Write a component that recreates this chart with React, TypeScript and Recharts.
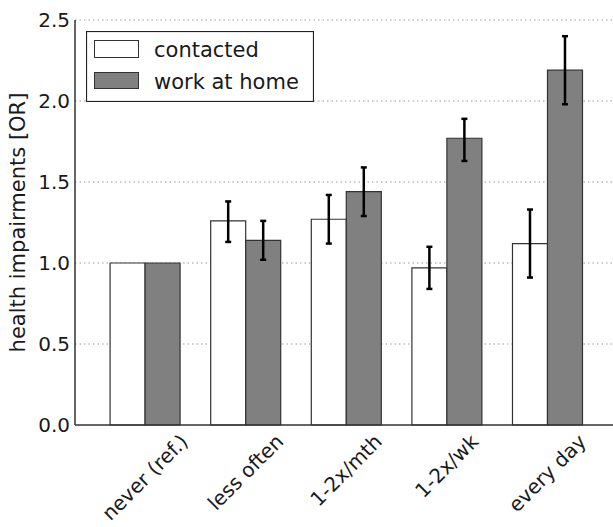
import React from "react";
import {
  BarChart,
  Bar,
  XAxis,
  YAxis,
  CartesianGrid,
  ErrorBar,
  Legend,
  Label,
} from "recharts";

const categories = ["never (ref.)", "less often", "1-2x/mth", "1-2x/wk", "every day"];
const contacted = [1.0, 1.26, 1.27, 0.97, 1.12];
const contactedLow = [null, 1.13, 1.12, 0.84, 0.91];
const contactedHigh = [null, 1.38, 1.42, 1.1, 1.33];
const workAtHome = [1.0, 1.14, 1.44, 1.77, 2.19];
const workLow = [null, 1.02, 1.29, 1.63, 1.98];
const workHigh = [null, 1.26, 1.59, 1.89, 2.4];
const yTicks = [0, 0.5, 1.0, 1.5, 2.0, 2.5];

const FONT = "'DejaVu Sans', sans-serif";
const FS = 21; // axis label + legend
const TICK_FS = 20;

const errOf = (v: number, lo: number | null, hi: number | null) =>
  lo == null || hi == null ? null : [v - lo, hi - v];

const data = categories.map((name, i) => ({
  name,
  contacted: contacted[i],
  contactedErr: errOf(contacted[i], contactedLow[i], contactedHigh[i]),
  work: workAtHome[i],
  workErr: errOf(workAtHome[i], workLow[i], workHigh[i]),
}));

let ctx: CanvasRenderingContext2D | null = null;
function textWidth(s: string) {
  if (!ctx) ctx = document.createElement("canvas").getContext("2d");
  if (!ctx) return s.length * TICK_FS * 0.55;
  ctx.font = `${TICK_FS}px 'DejaVu Sans'`;
  return ctx.measureText(s).width;
}

// matplotlib-style rotated label: rotation 45, centred on the tick, top just below the axis
function XTick(props: any) {
  const { x, y, payload } = props;
  const w = textWidth(payload.value);
  const h = TICK_FS * 0.9;
  const bh = (w + h) * Math.SQRT1_2;
  const cx = x;
  const cy = y + 7 + bh / 2;
  return (
    <text
      x={cx}
      y={cy}
      dy={TICK_FS * 0.32}
      textAnchor="middle"
      fontFamily={FONT}
      fontSize={TICK_FS}
      fill="#1a1a1a"
      transform={`rotate(-45, ${cx}, ${cy})`}
    >
      {payload.value}
    </text>
  );
}

function LegendBox() {
  return (
    <svg width={228} height={71} style={{ display: "block" }}>
      <rect x={0.5} y={0.5} width={227} height={70} fill="#fff" stroke="#222" strokeWidth={1.2} />
      <rect x={8.5} y={9.5} width={44} height={17} fill="#fff" stroke="#333" />
      <rect x={8.5} y={41.5} width={44} height={16} fill="#808080" stroke="#333" />
      <text x={68} y={26} fontFamily={FONT} fontSize={FS} fill="#1a1a1a">
        contacted
      </text>
      <text x={68} y={58} fontFamily={FONT} fontSize={FS} fill="#1a1a1a">
        work at home
      </text>
    </svg>
  );
}

export default function App() {
  return (
    <div
      style={{
        position: "absolute",
        left: 0,
        top: 0,
        width: 613,
        height: 527,
        overflow: "hidden",
        background: "#fff",
      }}
    >
      <BarChart
        width={618}
        height={527}
        data={data}
        margin={{ top: 20, right: 0, left: 0, bottom: 0 }}
        barCategoryGap="15%"
        barGap={0}
      >
        <CartesianGrid
          vertical={false}
          stroke="#9a9a9a"
          strokeDasharray="1.5 3"
          horizontalValues={[0.5, 1.0, 1.5, 2.0, 2.5]}
        />
        <XAxis
          dataKey="name"
          height={102}
          padding={{ left: 20, right: 20 }}
          tickLine={false}
          tickSize={0}
          tickMargin={0}
          axisLine={{ stroke: "#333", strokeWidth: 1.5 }}
          tick={<XTick />}
          interval={0}
        />
        <YAxis
          width={75}
          domain={[0, 2.5]}
          ticks={yTicks}
          tickFormatter={(v: number) => v.toFixed(1)}
          tickLine={false}
          tickSize={3}
          tickMargin={2}
          axisLine={{ stroke: "#333", strokeWidth: 1.5 }}
          tick={{ fontFamily: FONT, fontSize: TICK_FS, fill: "#1a1a1a" }}
        >
          <Label
            content={(p: any) => {
              const vb = p.viewBox;
              const cx = vb.x + 18;
              const cy = vb.y + vb.height / 2;
              return (
                <text
                  x={cx}
                  y={cy}
                  dy={FS * 0.346}
                  textAnchor="middle"
                  fontFamily={FONT}
                  fontSize={FS}
                  fill="#1a1a1a"
                  transform={`rotate(-90, ${cx}, ${cy})`}
                >
                  health impairments [OR]
                </text>
              );
            }}
          />
        </YAxis>
        <Legend
          layout="horizontal"
          verticalAlign="middle"
          align="center"
          wrapperStyle={{ left: 86, top: 31, width: 228, height: 71 }}
          content={() => <LegendBox />}
        />
        <Bar
          dataKey="contacted"
          name="contacted"
          fill="#ffffff"
          stroke="#333"
          strokeWidth={1.2}
          isAnimationActive={false}
        >
          <ErrorBar dataKey="contactedErr" width={3} stroke="#000" strokeWidth={2.5} />
        </Bar>
        <Bar
          dataKey="work"
          name="work at home"
          fill="#808080"
          stroke="#333"
          strokeWidth={1.2}
          isAnimationActive={false}
        >
          <ErrorBar dataKey="workErr" width={3} stroke="#000" strokeWidth={2.5} />
        </Bar>
      </BarChart>
    </div>
  );
}
